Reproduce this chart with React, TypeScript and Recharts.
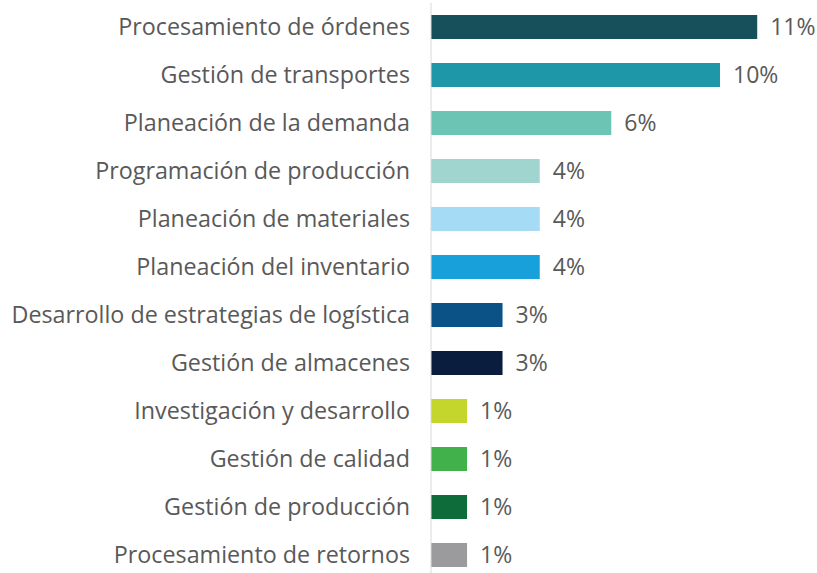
import { Bar, BarChart, XAxis, YAxis, LabelList, Cell } from 'recharts';

// categories, top to bottom
const areas = [
  'Procesamiento de órdenes',
  'Gestión de transportes',
  'Planeación de la demanda',
  'Programación de producción',
  'Planeación de materiales',
  'Planeación del inventario',
  'Desarrollo de estrategias de logística',
  'Gestión de almacenes',
  'Investigación y desarrollo',
  'Gestión de calidad',
  'Gestión de producción',
  'Procesamiento de retornos',
];

// share of responses, in %
const shares = [11.4, 10.1, 6.3, 3.8, 3.8, 3.8, 2.5, 2.5, 1.26, 1.26, 1.26, 1.26];

const barColors = [
  '#17505B',
  '#1E98A8',
  '#6CC5B4',
  '#A0D5CF',
  '#A5DBF5',
  '#17A0D9',
  '#0B5287',
  '#0B1D3F',
  '#C4D52B',
  '#41B24B',
  '#0E6B3A',
  '#9B9B9D',
];

const chartData = areas.map((area, i) => ({ area, share: shares[i] }));

const TEXT = '#595959';
const FONT = '"Open Sans", sans-serif';

export default function App() {
  return (
    <div
      style={{
        position: 'absolute',
        left: 0,
        top: 0,
        width: 817,
        height: 573,
        overflow: 'hidden',
        background: '#fff',
        fontFamily: FONT,
      }}
    >
      <BarChart
        width={817}
        height={582}
        data={chartData}
        layout="vertical"
        margin={{ top: 3, right: 14, bottom: 3, left: 0 }}
        barSize={24}
      >
        <XAxis type="number" domain={[0, 13]} hide />
        <YAxis
          type="category"
          dataKey="area"
          width={431}
          tickLine={false}
          tickSize={0}
          tickMargin={21}
          axisLine={{ stroke: '#D9D9D9', strokeWidth: 1 }}
          tick={{ fill: TEXT, fontSize: 23.3, fontFamily: FONT }}
          interval={0}
        />
        <Bar dataKey="share" isAnimationActive={false}>
          {chartData.map((entry, index) => (
            <Cell key={`cell-${index}`} fill={barColors[index]} />
          ))}
          <LabelList
            dataKey="share"
            position="right"
            offset={13}
            formatter={(v: number) => `${Math.round(v)}%`}
            style={{ fill: TEXT, fontSize: 23, fontFamily: FONT }}
          />
        </Bar>
      </BarChart>
    </div>
  );
}
